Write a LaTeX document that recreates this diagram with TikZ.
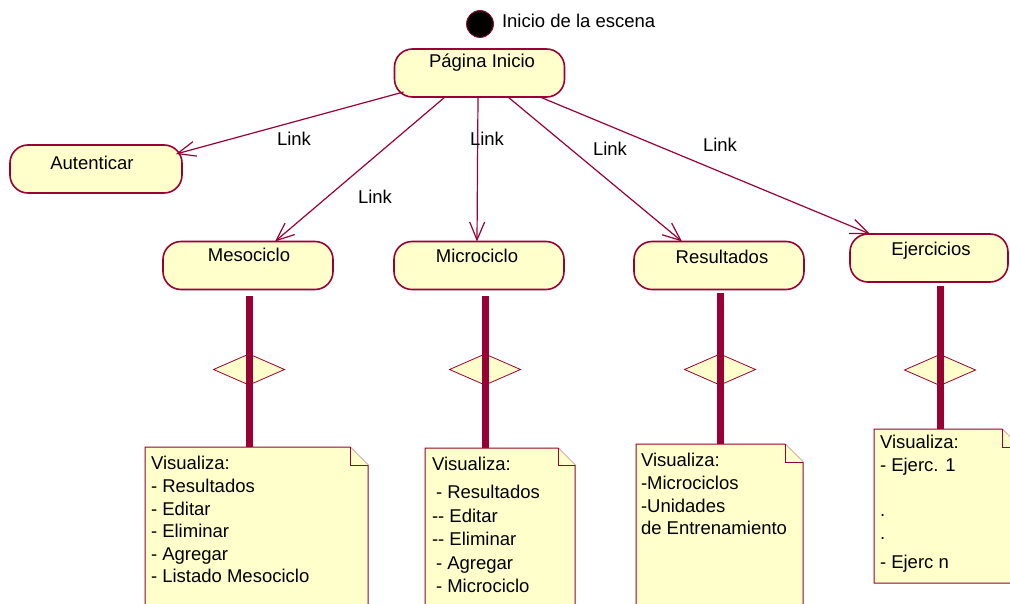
\documentclass[tikz,border=0pt]{standalone}
\usepackage{fontspec}
\setmainfont{Liberation Sans}
\usetikzlibrary{arrows.meta,calc,shapes.geometric}
\definecolor{rose}{HTML}{990033}
\definecolor{cream}{HTML}{FFFFCC}

\begin{document}
\begin{tikzpicture}[x=1pt,y=-1pt,
  every node/.style={inner sep=0pt, outer sep=0pt},
  txt/.style={font=\fontsize{18.5}{22.6}\selectfont},
  lbl/.style={txt, anchor=base},
  notetext/.style={txt, anchor=north west, align=left},
  activity/.style={draw=rose, line width=1.6pt, fill=cream, rounded corners=18pt,
    minimum height=48pt, minimum width=170pt},
  link/.style={draw=rose, line width=1.2pt, -{Straight Barb[length=18pt,width=15pt]}},
  syncbar/.style={draw=rose, line width=7pt},
  choice/.style={draw=rose, line width=0.8pt, fill=cream, diamond, aspect=2.29,
    minimum width=71pt, minimum height=31pt},
  note/.style={draw=rose, line width=1pt, fill=cream, line join=miter}]

\useasboundingbox (0,0) rectangle (1010,604);
\clip (0,0) rectangle (1010,604);

% initial state
\node[circle, fill=black, draw=rose, line width=0.8pt, minimum size=27pt] (start) at (480,24) {};
\node[txt, anchor=base west] (startlbl) at (502,28) {Inicio de la escena};

% activities
\node[activity] (pag) at (479.5,73) {};
\node[lbl] (pagtxt) at (482,68) {Página Inicio};
\node[activity, minimum width=172pt] (aut) at (96,169) {};
\node[lbl] (auttxt) at (92,170) {Autenticar};
\node[activity] (meso) at (248,265.5) {};
\node[lbl] (mesotxt) at (249,262) {Mesociclo};
\node[activity] (micro) at (479,265.5) {};
\node[lbl] (microtxt) at (477,263) {Microciclo};
\node[activity] (res) at (719,265.5) {};
\node[lbl] (restxt) at (722,264) {Resultados};
\node[activity, minimum width=158pt] (ejer) at (929,258) {};
\node[lbl] (ejertxt) at (931,256) {Ejercicios};

% links out of the home page
\draw[link] ($(pag.south west)+(9,-5)$) -- ($(aut.north east)+(-6,9)$);
\draw[link] ($(pag.south)+(-34.5,0)$) -- ($(meso.north)+(27,0)$);
\draw[link] ($(pag.south)+(-1.5,0)$) -- ($(micro.north)+(-2,0)$);
\draw[link] ($(pag.south)+(28.5,0)$) -- ($(res.north)+(-37,0)$);
\draw[link] ($(pag.south)+(60.5,0)$) -- ($(ejer.north west)+(20,0)$);

\node[lbl] (l1) at (294,146) {Link};
\node[lbl] (l2) at (375,204) {Link};
\node[lbl] (l3) at (487,146) {Link};
\node[lbl] (l4) at (610,156) {Link};
\node[lbl] (l5) at (720,152) {Link};

% notes
\draw[note] (145,447) -- (350,447) -- (368,465) -- (368,620) -- (145,620) -- cycle;
\draw[note] (350,447) -- (350,465) -- (368,465);
\draw[note] (425,448) -- (558,448) -- (575,465) -- (575,620) -- (425,620) -- cycle;
\draw[note] (558,448) -- (558,465) -- (575,465);
\draw[note] (636,444) -- (785,444) -- (803,462) -- (803,620) -- (636,620) -- cycle;
\draw[note] (785,444) -- (785,462) -- (803,462);
\draw[note] (874,429) -- (1002,429) -- (1020,447) -- (1020,583) -- (874,583) -- cycle;
\draw[note] (1002,429) -- (1002,447) -- (1020,447);

\coordinate (mesonote) at (249.5,447);
\coordinate (micronote) at (485,448);
\coordinate (resnote) at (720,444);
\coordinate (ejernote) at (940,429);

\node[notetext] (mesolist) at (151,456.5) {Visualiza:\\- Resultados\\- Editar\\- Eliminar\\- Agregar\\- Listado Mesociclo};
\node[notetext, font=\fontsize{18.5}{23.5}\selectfont] (microlist) at (432,457.4) {Visualiza:\\[4.5pt]\hspace{4pt}- Resultados\\-{}- Editar\\-{}- Eliminar\\\hspace{4pt}- Agregar\\\hspace{4pt}- Microciclo};
\node[notetext] (reslist) at (641,453.4) {Visualiza:\\-Microciclos\\-Unidades\\de Entrenamiento};
\node[notetext] (ejerlist) at (880,435.4) {Visualiza:\\- Ejerc. 1\\[22.6pt].\\.\\[7pt]- Ejerc n};

% decisions and bars
\node[choice] (d1) at (249,369.5) {};
\node[choice] (d2) at (485,369.5) {};
\node[choice] (d3) at (720,369.5) {};
\node[choice] (d4) at (940,370) {};

\draw[syncbar] ($(meso.south)+(1.5,7)$) -- (mesonote);
\draw[syncbar] ($(micro.south)+(6,7)$) -- (micronote);
\draw[syncbar] ($(res.south)+(1,4)$) -- (resnote);
\draw[syncbar] ($(ejer.south)+(11,4)$) -- (ejernote);

\end{tikzpicture}
\end{document}
